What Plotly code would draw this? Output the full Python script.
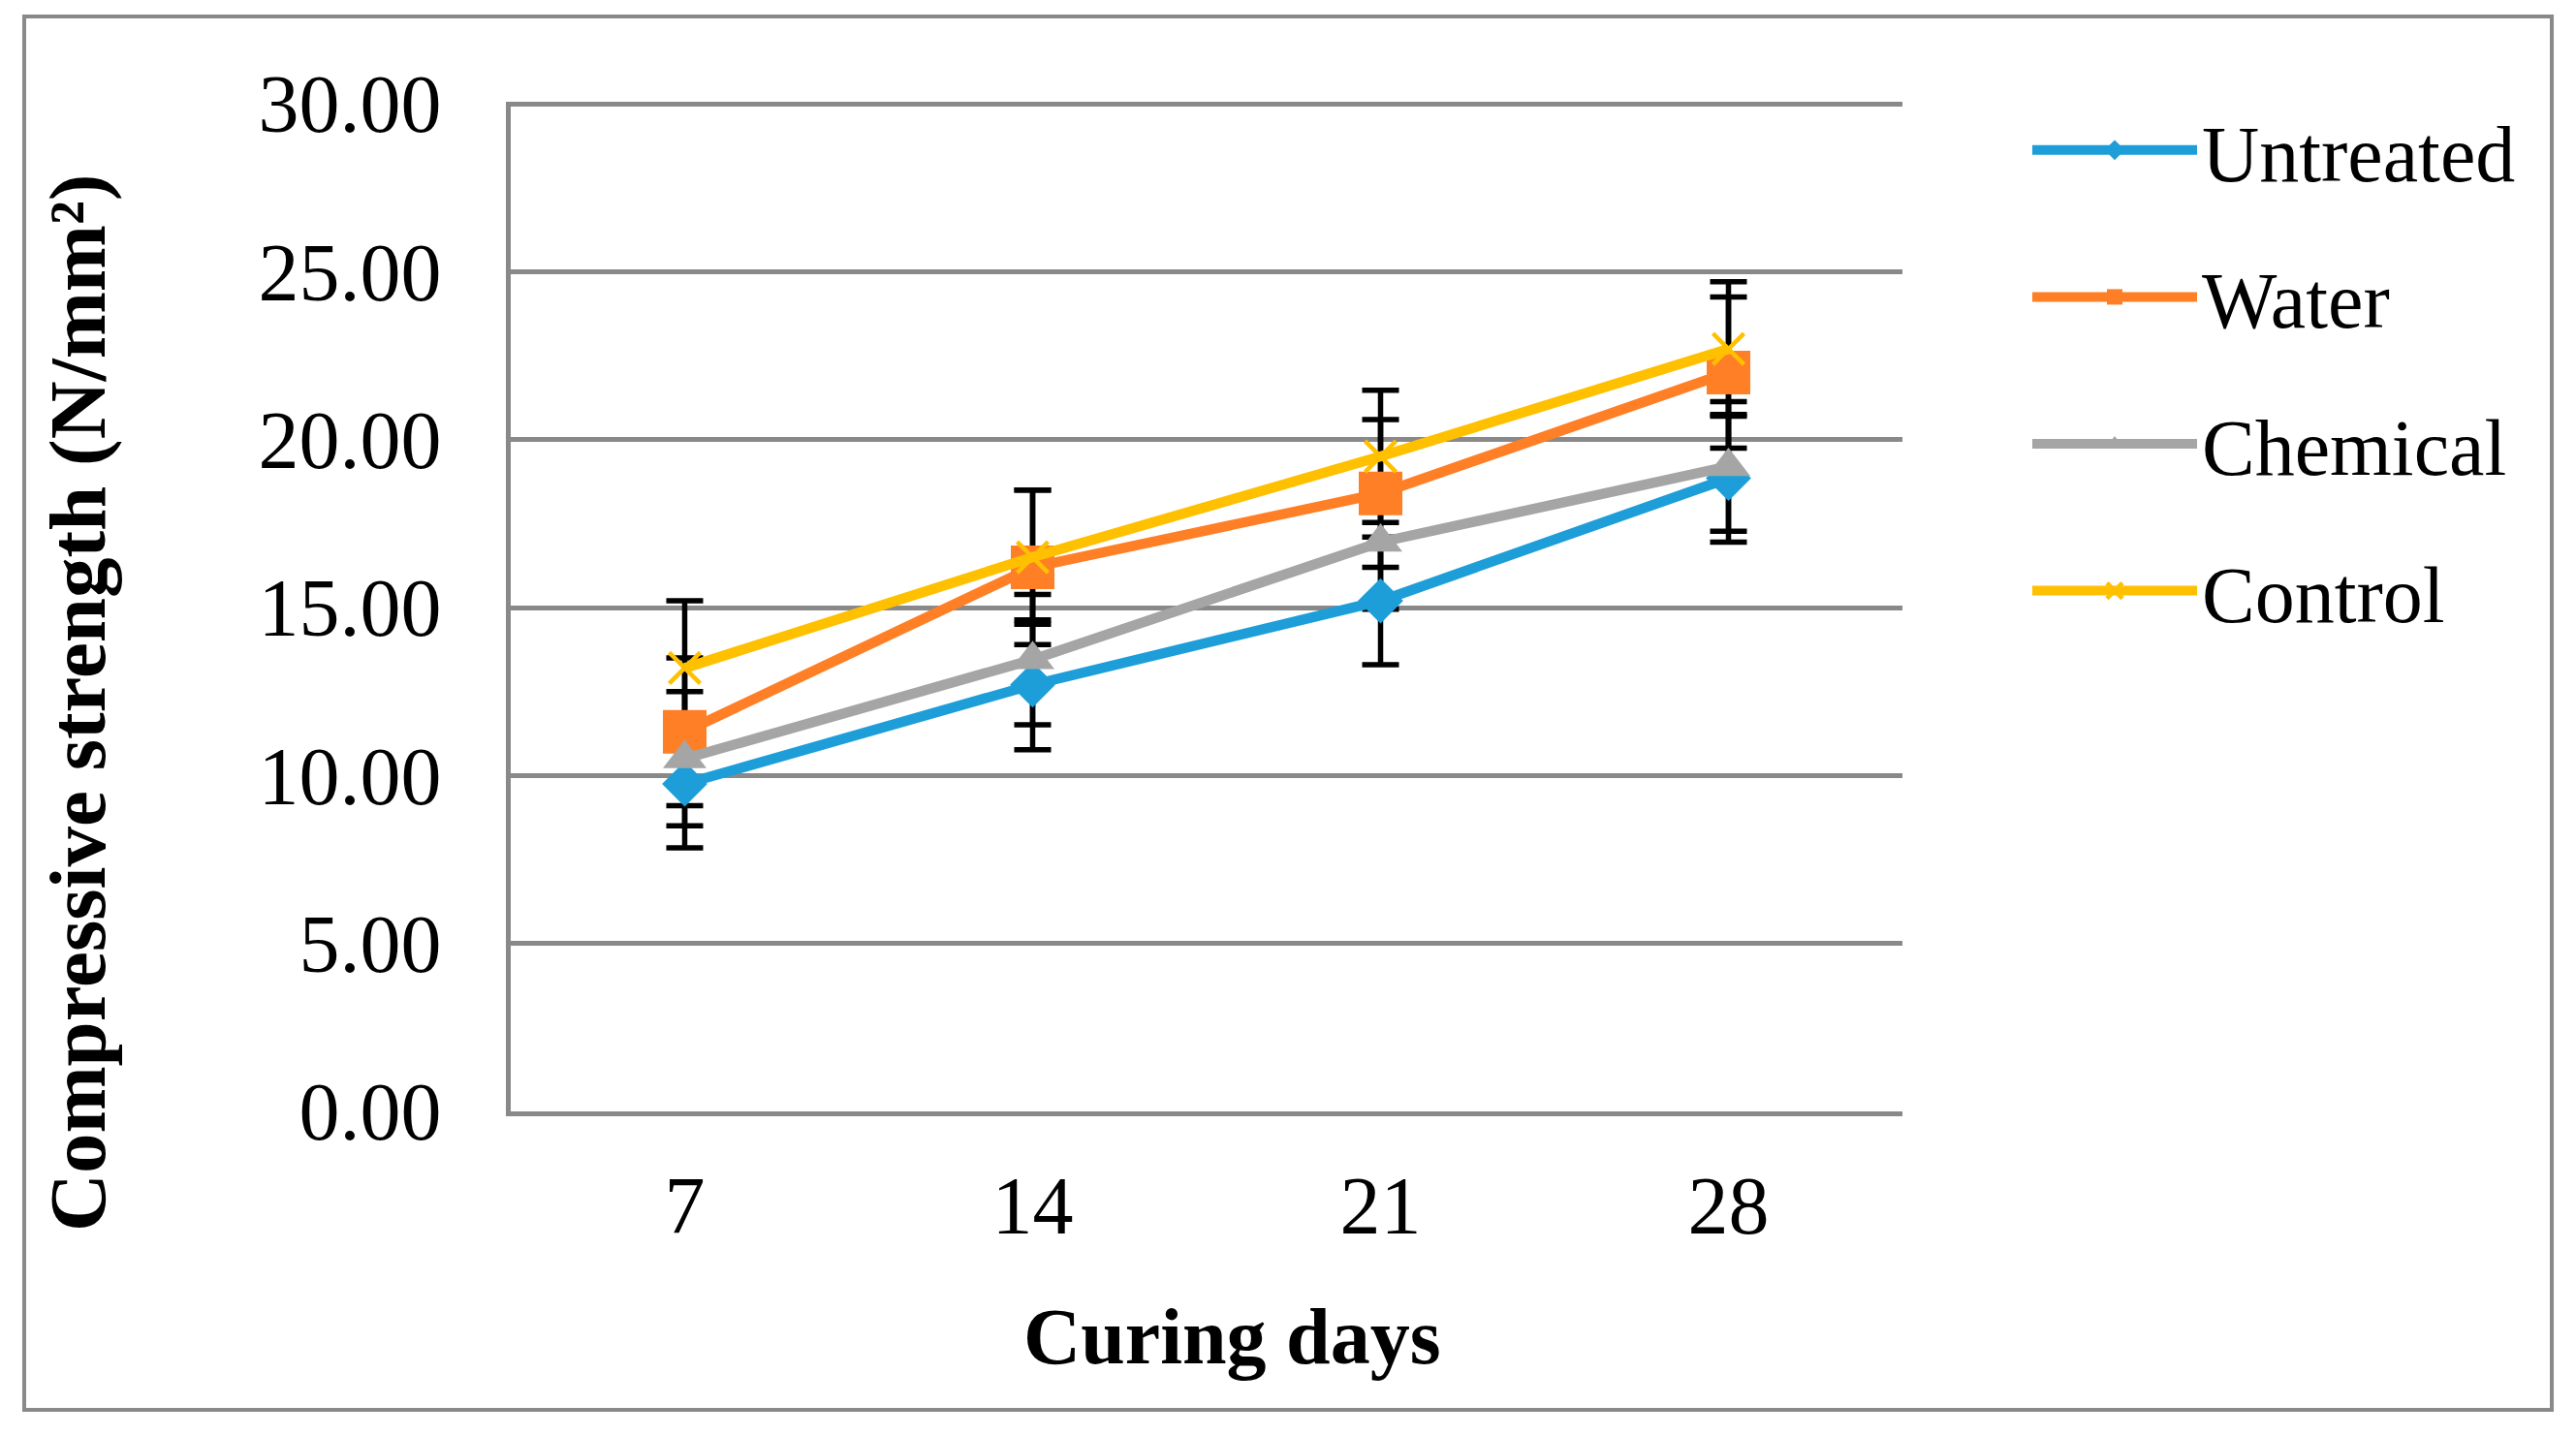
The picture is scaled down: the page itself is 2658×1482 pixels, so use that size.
import plotly.graph_objects as go

days = ["7", "14", "21", "28"]
series_names = ["Untreated", "Water", "Chemical", "Control"]
untreated = [9.75, 12.70, 15.20, 18.85]
untreated_err = [1.90, 1.93, 1.90, 1.90]
water = [11.30, 16.20, 18.40, 22.00]
water_err = [2.20, 2.30, 2.20, 2.25]
chemical = [10.50, 13.45, 16.95, 19.20]
chemical_err = [2.00, 1.94, 2.00, 1.93]
control = [13.20, 16.50, 19.50, 22.70]
control_err = [2.00, 2.00, 1.97, 2.00]
y_ticks = [0, 5, 10, 15, 20, 25, 30]

values = [untreated, water, chemical, control]
errors = [untreated_err, water_err, chemical_err, control_err]
colors = ["#1D9ED9", "#FF7F27", "#A5A5A5", "#FFC000"]
symbols = ["diamond", "square", "triangle-up", "x-thin"]
sizes = [36, 45, 39, 32]

FONT = "Liberation Serif"
fig = go.Figure()

# error bars first (drawn beneath all series)
for name, v, e in zip(series_names, values, errors):
    fig.add_trace(go.Scatter(
        x=days, y=v, mode="markers", showlegend=False, hoverinfo="skip",
        marker=dict(size=1, color="rgba(0,0,0,0)"),
        error_y=dict(type="data", array=e, visible=True, color="black",
                     thickness=5.5, width=19),
    ))

for name, v, c, s, sz in zip(series_names, values, colors, symbols, sizes):
    if s == "x-thin":
        marker = dict(symbol=s, size=sz, color=c, line=dict(color=c, width=4.5))
    else:
        marker = dict(symbol=s, size=sz, color=c, line=dict(width=0))
    fig.add_trace(go.Scatter(
        x=days, y=v, mode="lines+markers", name=name, legendgroup=name,
        line=dict(color=c, width=10.5), marker=marker,
    ))

OFF = 8  # browser body margin
W, H = 2658 - 2 * OFF, 1482 - 2 * OFF
L = 527 - OFF
T = 105 - OFF
PR = 1963 - OFF
PB = 1147 - OFF
R, B = W - PR, H - PB
pw, ph = PR - L, PB - T

def px_x(p):
    return (p - OFF - L) / pw

def px_y(p):
    return (PB - (p - OFF)) / ph

fig.add_shape(type="rect", xref="paper", yref="paper",
              x0=px_x(25), x1=px_x(2633), y0=px_y(1455), y1=px_y(17),
              line=dict(color="#898989", width=4), fillcolor="rgba(0,0,0,0)",
              layer="below")

fig.add_annotation(text="<b>Compressive strength (N/mm²)</b>", textangle=-90,
                   xref="paper", yref="paper", x=px_x(80), y=px_y(726),
                   xanchor="center", yanchor="middle", showarrow=False,
                   font=dict(family=FONT, size=83, color="black"))
fig.add_annotation(text="<b>Curing days</b>",
                   xref="paper", yref="paper", x=px_x(1271), y=px_y(1380),
                   xanchor="center", yanchor="middle", showarrow=False,
                   font=dict(family=FONT, size=82, color="black"))

fig.update_layout(
    width=W, height=H,
    margin=dict(l=L, r=R, t=T, b=B),
    paper_bgcolor="white", plot_bgcolor="white",
    font=dict(family=FONT, color="black", size=82),
    legend=dict(x=px_x(2092), xanchor="left", y=px_y(95), yanchor="top",
                font=dict(family=FONT, size=82), traceorder="grouped",
                tracegroupgap=42, itemwidth=170, bgcolor="rgba(0,0,0,0)"),
    xaxis=dict(type="category", range=[-0.5, 3.5], showgrid=False,
               showline=True, linecolor="#898989", linewidth=4.5,
               ticks="", tickfont=dict(family=FONT, size=84),
               ticklabelstandoff=20),
    yaxis=dict(range=[0, 30.06], tickvals=y_ticks, tickformat=".2f",
               showgrid=True, gridcolor="#898989", gridwidth=4.5,
               zeroline=False, showline=True, linecolor="#898989", linewidth=4.5,
               ticks="", tickfont=dict(family=FONT, size=84),
               ticklabelstandoff=50),
)

fig.write_html("out.html")
